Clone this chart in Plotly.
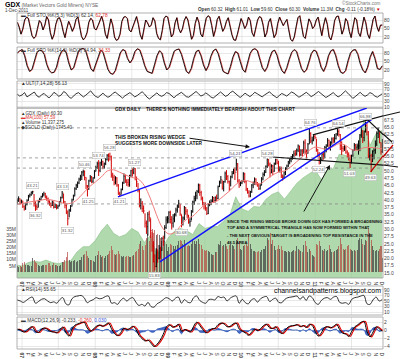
import pandas as pd
import plotly.graph_objects as go

W, H = 400, 359
def px(x): return x / W
def py(y): return 1 - y / H

FONT = "Liberation Sans, Arial, sans-serif"

# ---------------- data (approximate) ----------------
WEEK0 = "2006-12-08"
CLOSE = [
 39.8, 40.5, 38.9, 39.7,
 37.9, 36.9, 38.6, 39.9,  41.4, 41.8, 42.7, 42.9,  38.8, 37.9, 37.5, 39.7, 40.2,
 41.2, 41.8, 42.2, 41.1,  40.5, 39.6, 38.8, 38.2,  39.4, 37.6, 38.4, 37.5, 37.9,
 39.3, 40.8, 42.4, 39.6,  38.2, 35.9, 33.6, 36.5, 37.9,  40.1, 41.4, 43.9, 45.1,
 45.9, 47.2, 48.0, 49.6,  49.8, 47.8, 44.9, 43.9, 46.6,  47.9, 46.5, 47.6, 49.9,
 51.2, 52.5, 50.1, 52.8,  53.3, 51.4, 52.5, 54.0, 55.4,  55.1, 54.9, 48.6, 47.9,
 46.1, 47.6, 45.2, 42.3,  41.9, 43.6, 45.9, 48.2, 46.6,  46.1, 45.4, 48.3, 50.1,
 49.4, 50.8, 47.6, 46.3,  43.5, 38.2, 38.8, 37.1, 36.3,  32.1, 30.9, 35.1, 34.0,
 29.6, 24.3, 20.8, 17.2, 21.9,  20.1, 23.4, 22.7, 26.8,  25.7, 30.6, 33.2, 33.6,
 35.8, 33.4, 32.1, 33.6, 35.0,  36.6, 37.9, 38.9, 35.2,  31.8, 33.9, 37.5, 36.2,
 34.9, 32.5, 32.7, 36.0,  39.4, 40.6, 41.5, 43.0, 45.1,  42.6, 40.6, 39.1, 38.4,
 37.3, 35.4, 38.5, 39.2, 39.7,  40.9, 39.9, 40.8, 40.6,  44.6, 46.2, 47.0, 44.1,
 46.3, 49.2, 48.1, 46.4, 43.8,  48.0, 49.2, 50.3, 49.6,  52.5, 46.6, 45.6, 45.9,
 46.3, 49.0, 46.4, 43.8, 42.7,  41.4, 42.8, 45.2, 46.1,  47.2, 45.8, 45.5, 43.9,
 45.0, 47.3, 48.8, 49.6, 51.6,  54.0, 52.4, 49.3, 51.8,  49.9, 52.5, 53.9, 52.7,
 50.4, 50.9, 48.3, 47.9, 49.4,  50.7, 51.7, 53.1, 53.8,  54.8, 55.4, 55.9, 55.8,
 57.2, 58.6, 55.7, 56.9, 56.0,  59.6, 56.5, 56.2, 59.2,  62.9, 60.3, 60.6, 61.9, 61.5,
 57.2, 55.9, 53.4, 54.0,  55.7, 54.4, 58.1, 58.6,  60.5, 58.9, 59.8, 61.0,
 60.6, 61.2, 62.7, 63.6, 62.5,  58.7, 57.8, 57.6, 58.3,  56.5, 55.7, 54.5, 53.1,
 55.2, 57.0, 58.9, 58.2, 58.6,  58.6, 62.3, 63.8, 61.5,  63.5, 65.6, 63.4, 55.1, 55.2,
 53.2, 56.8, 57.1, 59.3,  62.9, 63.6, 59.8, 56.6,  60.3]
HIGH = [
 40.6, 41.3, 40.6, 40.2,
 39.8, 38.2, 38.9, 40.3,  41.8, 42.3, 43.0, 43.21,  42.1, 39.6, 38.6, 40.1, 40.8,
 41.5, 42.4, 42.9, 42.5,  41.6, 40.9, 39.9, 39.2,  39.9, 39.5, 38.8, 38.6, 38.4,
 39.7, 41.2, 43.13, 42.2,  39.7, 38.6, 36.5, 37.0, 38.3,  40.5, 41.9, 44.4, 45.6,
 46.4, 47.7, 48.7, 50.0,  50.46, 50.2, 47.9, 45.2, 47.0,  48.6, 48.3, 47.9, 50.3,
 51.8, 53.2, 53.74, 53.2,  54.1, 53.5, 52.9, 54.4, 55.8,  56.0, 56.28, 55.3, 49.4,
 48.7, 48.2, 47.9, 45.5,  42.9, 44.0, 46.3, 49.2, 48.8,  47.2, 47.3, 48.7, 50.4,
 50.9, 51.27, 51.0, 48.1,  45.9, 43.8, 40.6, 39.7, 38.2,  35.5, 33.0, 35.9, 36.4,
 33.8, 29.2, 25.9, 21.4, 23.5,  23.1, 24.6, 24.0, 27.3,  27.8, 31.4, 34.4, 34.5,
 36.2, 36.4, 34.5, 35.2, 35.5,  37.4, 38.5, 40.1, 38.7,  35.1, 34.4, 38.0, 37.6,
 36.9, 34.9, 33.8, 36.6,  39.8, 41.5, 42.9, 43.5, 45.7,  45.6, 43.2, 41.2, 39.3,
 39.2, 37.6, 39.0, 39.9, 40.3,  41.4, 41.1, 41.3, 41.9,  45.0, 46.7, 48.3, 46.8,
 46.6, 49.8, 50.3, 48.6, 46.7,  48.4, 50.0, 50.8, 51.2,  54.21, 52.7, 47.2, 46.6,
 46.9, 49.6, 49.4, 46.6, 44.2,  43.4, 43.2, 45.5, 46.4,  47.8, 47.5, 46.2, 45.7,
 45.5, 47.9, 49.5, 50.3, 51.9,  54.28, 54.1, 52.9, 52.3,  52.1, 52.9, 54.2, 54.1,
 53.5, 51.6, 51.5, 48.8, 49.9,  51.3, 52.2, 53.5, 54.3,  55.1, 55.8, 57.0, 57.2,
 57.7, 59.1, 58.7, 57.5, 57.5,  60.4, 60.9, 57.4, 59.6,  64.76, 63.3, 61.8, 62.3, 62.5,
 61.1, 57.6, 56.5, 54.8,  56.2, 56.5, 58.6, 59.2,  61.3, 60.8, 60.2, 61.5,
 61.6, 62.7, 63.0, 64.54, 64.3,  62.7, 60.2, 58.6, 59.0,  58.4, 57.1, 56.4, 55.6,
 55.6, 57.5, 59.6, 59.3, 59.4,  60.5, 62.7, 65.4, 64.0,  63.9, 66.98, 66.7, 63.7, 57.9,
 55.9, 57.1, 57.8, 60.5,  63.6, 64.9, 63.4, 59.8,  61.01]
LOW = [
 38.6, 39.4, 38.5, 38.7,
 37.3, 36.4, 36.7, 38.2,  39.8, 40.9, 41.5, 42.0,  37.8, 36.32, 36.6, 37.5, 39.2,
 40.0, 40.9, 41.3, 40.6,  39.8, 38.6, 38.1, 37.4,  38.0, 37.1, 37.3, 36.8, 37.0,
 37.9, 39.1, 40.6, 39.0,  37.2, 35.2, 31.32, 34.1, 36.0,  37.8, 39.9, 41.3, 43.5,
 44.2, 45.5, 46.6, 46.9,  48.2, 46.8, 43.8, 41.25, 43.5,  46.3, 45.8, 45.9, 47.4,
 49.8, 50.7, 48.3, 49.6,  51.8, 50.6, 50.8, 52.0, 53.6,  53.2, 53.6, 47.7, 46.6,
 45.1, 45.4, 44.6, 41.8,  41.21, 41.9, 43.4, 45.6, 45.9,  44.9, 44.6, 44.6, 48.0,
 48.1, 48.9, 46.8, 44.5,  42.7, 37.5, 36.8, 35.9, 35.4,  30.6, 28.4, 27.8, 32.6,
 27.0, 22.3, 18.6, 15.83, 17.0,  18.5, 19.7, 19.9, 22.6,  24.3, 26.7, 30.1, 32.0,
 32.1, 32.0, 29.9, 30.6, 32.4,  34.4, 35.7, 37.3, 34.6,  30.68, 31.3, 33.1, 35.0,
 33.9, 31.9, 30.9, 33.0,  35.7, 38.4, 39.6, 40.3, 42.4,  41.5, 39.9, 38.2, 36.8,
 36.4, 34.9, 35.2, 37.9, 38.3,  39.3, 39.1, 39.2, 39.7,  40.3, 44.5, 45.6, 43.6,
 43.0, 46.0, 46.9, 45.7, 43.1,  44.7, 47.5, 48.9, 46.9,  50.1, 46.0, 44.2, 44.8,
 45.5, 46.4, 45.8, 43.1, 42.2,  40.9, 41.0, 42.5, 44.1,  45.3, 45.1, 44.6, 43.5,
 43.6, 45.1, 46.8, 48.2, 49.3,  51.0, 51.6, 47.8, 49.3,  48.6, 49.7, 52.1, 52.3,
 49.7, 49.5, 47.6, 46.7, 47.4,  48.6, 50.3, 51.4, 52.3,  53.0, 53.9, 54.6, 55.1,
 55.3, 56.5, 54.9, 55.1, 55.0,  56.2, 55.8, 54.3, 55.9,  59.3, 59.6, 59.1, 60.2, 60.9,
 56.6, 54.8, 52.24, 52.4,  53.5, 53.9, 54.5, 56.4,  58.3, 57.4, 57.0, 59.0,
 59.5, 59.7, 60.8, 62.1, 61.8,  57.2, 55.5, 56.6, 56.9,  55.9, 54.7, 53.6, 51.03,
 52.6, 54.9, 56.8, 57.2, 57.2,  55.6, 56.8, 61.4, 59.6,  60.2, 63.2, 62.2, 54.4, 53.6,
 49.63, 53.1, 54.0, 55.9,  58.6, 61.3, 59.5, 55.6,  56.2]
VOLUME_M = [
 5, 4, 5, 4,
 7, 8, 6, 6,  6, 5, 5, 11,  10, 8, 7, 6, 5,  5, 6, 6, 6,  6, 7, 7, 5,  6, 7, 6, 6, 5,
 5, 6, 8, 8,  10, 12, 16, 10, 8,  9, 9, 10, 8,  9, 10, 10, 12,  14, 15, 17, 13, 11,  10, 10, 9, 8,
 13, 14, 17, 14,  12, 13, 11, 13, 14,  15, 17, 21, 18,  15, 14, 15, 17,  15, 13, 12, 13, 12,
 13, 13, 12, 12,  13, 14, 16, 17,  19, 23, 25, 21, 18,  22, 28, 31, 25,  28, 35, 32, 34, 30,
 31, 30, 28, 25,  26, 27, 23, 17,
 20, 23, 22, 21, 19,  21, 22, 25, 26,  25, 23, 26, 22,  21, 22, 21, 23,  26, 25, 23, 25, 27,
 23, 22, 19, 18,  17, 18, 17, 16, 15,  14, 14, 16, 16,  23, 22, 25, 21,  22, 23, 21, 19, 22,
 23, 22, 21, 19,  26, 28, 25, 19,
 18, 21, 22, 23, 21,  31, 23, 19, 17,  17, 16, 16, 17,  16, 18, 19, 19, 21,  28, 26, 32, 23,
 26, 21, 18, 19,  22, 19, 21, 18, 17,  17, 16, 17, 16,  16, 17, 18, 17,  21, 19, 18, 17, 16,
 22, 25, 21, 16,  19, 17, 14, 13, 12,
 23, 22, 25, 21,  18, 17, 19, 17,  18, 22, 19, 16,  16, 17, 18, 19, 21,  28, 23, 19, 18,
 19, 21, 22, 19,  18, 17, 18, 17, 18,  26, 28, 27, 23,  22, 26, 25, 36, 32,  26, 21, 18, 17,
 18, 17, 19, 21,  11.3]

MONTH0 = "2006-12-01"
MA100 = [
 38.5, 38.8, 39.3, 39.6, 39.9, 40.3, 40.0, 39.5, 38.8, 38.9, 40.1, 42.3, 44.5,
 46.2, 48.0, 50.0, 50.4, 49.6, 48.6, 47.8, 47.3, 45.0, 40.7, 35.0, 30.5,
 28.4, 29.0, 31.2, 33.5, 34.5, 36.6, 38.4, 39.0, 39.8, 41.4, 43.2, 45.3,
 46.6, 46.6, 45.9, 45.6, 47.0, 48.5, 49.6, 50.0, 51.4, 53.2, 55.0, 57.0,
 58.2, 57.8, 57.4, 58.4, 59.4, 58.8, 57.4, 57.1, 58.0, 58.1, 57.9, 57.6]
GOLD = [
 640, 632, 660, 670, 663, 680, 660, 650, 665, 675, 745, 790, 790,
 840, 920, 975, 900, 870, 890, 940, 910, 825, 880, 730, 780,
 870, 920, 940, 920, 890, 980, 940, 955, 955, 1000, 1045, 1200,
 1100, 1080, 1120, 1115, 1180, 1220, 1240, 1180, 1250, 1310, 1355, 1385,
 1420, 1340, 1420, 1430, 1550, 1540, 1500, 1620, 1830, 1620, 1720, 1745]

OSC_START, OSC_END = "2006-12-08", "2011-12-01"
STO5_K = [
 72, 55, 30, 48, 80, 90, 86, 60, 25, 15, 22, 50, 78, 70, 45, 62, 92, 80, 35, 12,
 28, 65, 85, 88, 70, 40, 18, 50, 75, 60, 40, 55, 82, 91, 60, 22, 10, 18, 35, 72,
 86, 80, 50, 45, 60, 80, 93, 70, 30, 15, 58, 84, 62, 20, 8, 12, 30, 75, 90, 92,
 85, 45, 38, 55, 78, 92, 65, 28, 12, 48, 80, 70, 55, 62, 88, 76, 32, 15, 10, 42,
 85, 94, 90, 58, 20, 30, 70, 88, 50, 35, 48, 78, 92, 80, 40, 12, 25, 68, 90, 72,
 30, 20, 55, 86, 95, 90, 60, 22, 45, 82, 93, 65, 40, 52, 75, 88, 55, 28, 10, 8,
 30, 60, 85, 70, 50, 62, 90, 78, 35, 22, 48, 80, 92, 88, 62, 20, 35, 72, 85, 45,
 18, 30, 68, 90, 75, 60, 72, 82, 45, 12, 5, 20, 55, 88, 95, 60, 22, 15, 50, 84,
 72, 50, 58, 80, 90, 55, 25, 62, 88, 65, 20, 10, 35, 78, 92, 94, 68, 30, 48, 85,
 75, 40, 18, 55, 88, 80, 35, 22, 60, 90, 70, 30, 15, 45, 82, 94, 58, 40, 62, 62]
STO14_K = [
 80, 88, 92, 70, 35, 15, 22, 55, 82, 90, 88, 75, 40, 18, 10, 12, 30, 65, 85, 92,
 80, 45, 20, 28, 60, 88, 94, 96, 85, 50, 25, 15, 40, 72, 90, 82, 55, 22, 8, 5,
 18, 50, 80, 92, 88, 60, 45, 58, 85, 95, 90, 65, 35, 15, 10, 8, 38, 70, 88, 80,
 45, 20, 30, 62, 86, 92, 94, 75, 40, 15, 8, 25, 60, 85, 90, 70, 38, 18, 35, 68,
 88, 94, 78, 42, 15, 10, 6, 32, 65, 85, 80, 50, 22, 12, 45, 78, 92, 95, 88, 60,
 28, 15, 30, 62, 85, 90, 72, 40, 18, 8, 28, 58, 82, 92, 85, 55, 25, 12, 20, 48,
 78, 90, 86, 62, 30, 15, 35, 70, 88, 92, 70, 35, 12, 8, 18, 52, 80, 90, 92, 75,
 42, 20, 10, 30, 65, 85, 60, 25, 22, 35]
ULT = [
 55, 48, 52, 60, 45, 50, 58, 62, 49, 44, 53, 57, 48, 42, 50, 61, 55, 47, 52, 64,
 58, 46, 40, 49, 56, 60, 52, 45, 51, 59, 66, 55, 47, 43, 52, 58, 50, 44, 48, 57,
 62, 54, 46, 41, 49, 55, 60, 53, 45, 50, 58, 63, 55, 44, 38, 46, 54, 59, 51, 47,
 52, 60, 57, 48, 42, 50, 56, 61, 54, 46, 44, 51, 58, 64, 56, 48, 52, 59, 53, 45,
 41, 49, 57, 62, 55, 47, 51, 60, 65, 57, 48, 43, 50, 58, 52, 46, 53, 61, 56, 49,
 45, 52, 59, 63, 54, 47, 42, 50, 57, 53, 48, 55, 62, 58, 50, 44, 49, 56, 61, 54,
 46, 51, 58, 64, 57, 49, 43, 48, 55, 60, 52, 45, 50, 59, 66, 58, 47, 40, 46, 55,
 61, 53, 47, 52, 60, 56, 48, 44, 51, 56]
RSI14 = [
 54, 50,
 45, 52, 60, 64, 42, 48, 56, 58, 50, 44, 47, 42, 55, 62, 40, 36, 58, 66, 68, 70, 62, 44, 50, 55,
 62, 58, 60, 66, 68, 42, 44, 38, 52, 60, 50, 58, 62, 46, 34, 38, 32, 45, 30, 28, 40, 46, 55, 62,
 58, 50, 60, 64, 42, 55, 46, 44, 62, 68, 52, 45, 42, 55, 56, 54, 66, 62, 64, 50, 60, 66, 68, 42,
 56, 44, 40, 54, 58, 46, 58, 64, 66, 48, 56, 60, 45, 44, 56, 62, 64, 66, 68, 56, 66, 52, 68, 62,
 44, 38, 52, 60, 62, 56, 64, 66, 45, 42, 44, 38, 56, 62, 64, 68, 70, 40, 38, 54, 64, 50,
 55]
MACD = [
 0.3, 0.1,
 -0.4, -0.2, 0.6, 0.9, -0.3, -0.5, 0.3, 0.6, 0.2, -0.3, -0.4, -0.6, 0.2, 0.8, -0.5, -1.4,
 0.3, 1.3, 1.6, 1.9, 2.0, 0.6, -0.2, 0.3,
 1.0, 1.3, 1.0, 1.4, 1.8, 0.4, -0.8, -1.3, -0.6, 0.5, 0.2, 0.5, 1.0, 0.3, -1.2, -2.0,
 -2.6, -2.4, -3.2, -4.0, -3.4, -2.4, -1.0, 0.8,
 1.4, 0.8, 1.0, 1.5, -0.2, 0.2, -0.1, -0.4, 1.0, 2.0, 1.2, 0.2, -0.6, -0.1, 0.4, 0.5,
 1.4, 1.8, 1.6, 0.9, 1.0, 1.6, 1.8, 0.3,
 -0.2, -0.6, -1.2, -0.5, 0.3, 0.0, 0.4, 1.2, 1.5, 0.6, 0.5, 0.9, -0.2, -0.8, 0.0, 0.8,
 1.1, 1.2, 1.4, 0.9, 1.2, 0.7, 1.5, 1.2,
 -0.3, -1.4, -0.6, 0.7, 0.9, 0.6, 1.0, 1.5, 0.2, -0.7, -0.9, -1.5, -0.2, 0.9, 1.4, 2.0,
 2.2, -0.3, -1.6, -0.4, 0.9, 0.4, -0.23]
MACD_HIST = [
 0.1, -0.1,
 -0.25, 0.1, 0.4, 0.15, -0.6, -0.1, 0.4, 0.15, -0.2, -0.25, -0.05, -0.1, 0.4, 0.3, -0.65, -0.45,
 0.85, 0.5, 0.15, 0.15, 0.05, -0.7, -0.4, 0.25,
 0.35, 0.15, -0.15, 0.2, 0.2, -0.7, -0.6, -0.25, 0.35, 0.55, -0.15, 0.15, 0.25, -0.35, -0.75, -0.4,
 -0.3, 0.1, -0.4, -0.4, 0.3, 0.5, 0.7, 0.9,
 0.3, -0.3, 0.1, 0.25, -0.85, 0.2, -0.15, -0.15, 0.7, 0.5, -0.4, -0.5, -0.4, 0.25, 0.25, 0.05,
 0.45, 0.2, -0.1, -0.35, 0.05, 0.3, 0.1, -0.75,
 -0.25, -0.2, -0.3, 0.35, 0.4, -0.15, 0.2, 0.4, 0.15, -0.45, -0.05, 0.2, -0.55, -0.3, 0.4, 0.4,
 0.15, 0.05, 0.1, -0.25, 0.15, -0.25, 0.4, -0.15,
 -0.75, -0.55, 0.4, 0.65, 0.1, -0.15, 0.2, 0.25, -0.65, -0.45, -0.1, -0.3, 0.65, 0.55, 0.25, 0.3,
 0.1, -1.25, -0.65, 0.6, 0.65, -0.25, 0.03]

PRICE_TICKS = [15.0, 17.5, 20.0, 22.5, 25.0, 27.5, 30.0, 32.5, 35.0, 37.5, 40.0, 42.5,
               45.0, 47.5, 50.0, 52.5, 55.0, 57.5, 60.0, 62.5, 65.0, 67.5]
VOL_TICKS_M = [5, 10, 15, 20, 25, 30, 35]
OSC_TICKS = [20, 50, 80]
ULT_TICKS = [10, 30, 50, 70, 90]
MACD_TICKS = [-4, -2, 0, 2]
MONTH_LETTERS = ["J", "F", "M", "A", "M", "J", "J", "A", "S", "O", "N", "D"]

# user-drawn annotation data: (date, price)
BLUE_UPPER = [("2008-04-23", 41.1), ("2011-09-15", 71.6)]
BLUE_LOWER = [("2008-11-18", 18.8), ("2011-10-10", 67.7)]
BLACK_UPPER = [("2010-12-20", 62.4), ("2011-12-06", 68.9)]
BLACK_LOWER = [("2010-06-03", 54.8), ("2011-12-06", 52.0)]
TRI_TOP = [("2011-09-05", 68.5), ("2011-12-06", 62.5)]
TRI_BOTTOM = [("2011-10-05", 49.7), ("2011-12-06", 55.3)]
DASHED_LEVELS = [64.8, 54.5, 51.0, 38.7]
PIVOT_DATES = ["2007-02-23", "2007-03-07", "2007-07-20", "2007-08-16", "2007-11-07", "2007-11-27",
               "2008-01-17", "2008-03-14", "2008-05-01", "2008-07-15", "2008-10-24", "2009-03-06",
               "2009-12-02", "2010-05-06", "2010-12-07", "2011-01-20", "2011-04-26", "2011-06-23",
               "2011-09-08", "2011-10-04"]
PIVOT_PRICES = [43.21, 36.32, 43.13, 31.32, 50.46, 41.25, 53.74, 56.28, 41.21, 51.27, 15.83, 30.68,
                54.21, 54.28, 64.76, 52.24, 64.54, 51.03, 66.98, 49.63]
PIVOT_SIDE = [1, -1, 1, -1, 1, -1, 1, 1, -1, 1, -1, -1, 1, 1, 1, -1, 1, -1, 1, -1]

# ---------------- layout geometry (pixels) ----------------
XL, XR = 17, 383
P_STO5 = (13, 43)
P_STO14 = (47, 79)
P_ULT = (81, 108)
P_MAIN = (108, 278)
P_RSI = (286, 315)
P_MACD = (317, 349)

def dom(p):
    return [py(p[1]), py(p[0])]

wk = pd.date_range(WEEK0, periods=len(CLOSE), freq="W-FRI")
opens = [CLOSE[0]] + CLOSE[:-1]
mdates = pd.date_range(MONTH0, periods=len(MA100), freq="MS")
gdates = pd.date_range(MONTH0, periods=len(GOLD), freq="MS")

def osc_x(n):
    return pd.date_range(OSC_START, OSC_END, periods=n)

fig = go.Figure()

# main panel: gold area (base axis y4), volume (y5), price (y6)
fig.add_trace(go.Scatter(x=gdates, y=GOLD, mode="lines", fill="tozeroy",
                         line=dict(color="#86bd83", width=0.6),
                         fillcolor="rgba(150,205,145,0.75)",
                         xaxis="x2", yaxis="y4", hoverinfo="skip"))
vcol = ["#b5453f" if c < o else "#3c3c3c" for c, o in zip(CLOSE, opens)]
fig.add_trace(go.Bar(x=wk, y=[v * 1e6 for v in VOLUME_M], marker_color=vcol,
                     marker_line_width=0, opacity=0.7, width=5 * 86400000,
                     xaxis="x2", yaxis="y5", hoverinfo="skip"))
fig.add_trace(go.Scatter(x=mdates, y=MA100, mode="lines",
                         line=dict(color="#f07a7a", width=1, shape="spline"),
                         xaxis="x2", yaxis="y6", hoverinfo="skip"))
fig.add_trace(go.Ohlc(x=wk, open=opens, high=HIGH, low=LOW, close=CLOSE,
                      increasing_line_color="#000000", decreasing_line_color="#d10000",
                      line_width=1, tickwidth=0.35, xaxis="x2", yaxis="y6",
                      hoverinfo="skip"))

# oscillators
def add_kd(vals, yax, lag):
    xs = osc_x(len(vals))
    fig.add_trace(go.Scatter(x=xs + pd.Timedelta(days=lag), y=vals, mode="lines",
                             line=dict(color="#d00000", width=0.7), xaxis="x", yaxis=yax,
                             hoverinfo="skip"))
    fig.add_trace(go.Scatter(x=xs, y=vals, mode="lines",
                             line=dict(color="#000000", width=0.85), xaxis="x", yaxis=yax,
                             hoverinfo="skip"))

add_kd(STO5_K, "y", 2)
add_kd(STO14_K, "y2", 3)
fig.add_trace(go.Scatter(x=osc_x(len(ULT)), y=ULT, mode="lines",
                         line=dict(color="#000000", width=0.8), xaxis="x", yaxis="y3",
                         hoverinfo="skip"))
fig.add_trace(go.Scatter(x=osc_x(len(RSI14)), y=RSI14, mode="lines",
                         line=dict(color="#000000", width=0.8, shape="spline"),
                         xaxis="x", yaxis="y7", hoverinfo="skip"))
mx = osc_x(len(MACD))
fig.add_trace(go.Scatter(x=osc_x(len(MACD_HIST)), y=MACD_HIST, mode="lines", fill="tozeroy",
                         line=dict(color="#1f4fb0", width=0.8, shape="spline"),
                         fillcolor="rgba(40,80,190,0.85)", xaxis="x", yaxis="y8",
                         hoverinfo="skip"))
fig.add_trace(go.Scatter(x=mx + pd.Timedelta(days=7), y=MACD, mode="lines",
                         line=dict(color="#e00000", width=1.1, shape="spline"),
                         xaxis="x", yaxis="y8", hoverinfo="skip"))
fig.add_trace(go.Scatter(x=mx, y=MACD, mode="lines",
                         line=dict(color="#000000", width=1, shape="spline"),
                         xaxis="x", yaxis="y8", hoverinfo="skip"))

# ---------------- axes ----------------
tickfont = dict(family=FONT, size=5, color="#444")
mticks = pd.date_range("2007-01-01", "2011-12-01", freq="MS")
mtext = ["<b>%02d</b>" % (d.year % 100) if d.month == 1 else MONTH_LETTERS[d.month - 1]
         for d in mticks]
xrange_ = ["2006-12-07", "2011-12-05"]

def osc_axis(p, rng, ticks):
    return dict(domain=dom(p), range=rng, side="right", anchor="x", tickvals=ticks,
                tickfont=tickfont, showgrid=True, gridcolor="#d9d9d9", gridwidth=0.6,
                zeroline=False, showline=False, ticks="", automargin=False, fixedrange=True)

xcommon = dict(domain=[px(XL), px(XR)], range=xrange_, type="date",
               tickvals=mticks, ticktext=mtext, tickfont=dict(family=FONT, size=5, color="#333"),
               showgrid=False, zeroline=False, showline=False, ticks="", automargin=False,
               rangeslider=dict(visible=False))
layout_axes = dict(
    xaxis=dict(anchor="y8", **xcommon),
    xaxis2=dict(anchor="y4", matches="x", **xcommon),
    yaxis=osc_axis(P_STO5, [-1.2, 104.7], OSC_TICKS),
    yaxis2=osc_axis(P_STO14, [-11.8, 101.2], OSC_TICKS),
    yaxis3=osc_axis(P_ULT, [6.5, 100.4], ULT_TICKS),
    yaxis7=osc_axis(P_RSI, [-0.4, 103.9], ULT_TICKS),
    yaxis8=osc_axis(P_MACD, [-4.6, 3.3], MACD_TICKS),
    yaxis4=dict(domain=dom(P_MAIN), range=[533, 1929], anchor="x2", visible=False,
                showgrid=False, zeroline=False, automargin=False, fixedrange=True),
    yaxis5=dict(domain=dom(P_MAIN), range=[-4.88e6, 133.5e6], overlaying="y4", anchor="x2",
                side="left", tickvals=[v * 1e6 for v in VOL_TICKS_M],
                ticktext=["%dM" % v for v in VOL_TICKS_M], tickfont=tickfont,
                showgrid=False, zeroline=False, ticks="", automargin=False, fixedrange=True),
    yaxis6=dict(domain=dom(P_MAIN), range=[13.28, 71.62], overlaying="y4", anchor="x2",
                side="right", tickvals=PRICE_TICKS, tickformat=".1f", tickfont=tickfont,
                showgrid=False, zeroline=False, ticks="", automargin=False, fixedrange=True),
)

# ---------------- shapes ----------------
shapes = []
grid_dates = [d for d in mticks if d.month in (1, 7)]
for p in (P_STO5, P_STO14, P_ULT, P_MAIN, P_RSI, P_MACD):
    for d in grid_dates:
        shapes.append(dict(type="line", xref="x", yref="paper", x0=d, x1=d,
                           y0=py(p[1]), y1=py(p[0]), line=dict(color="#dedede", width=0.7),
                           layer="below"))
    shapes.append(dict(type="rect", xref="paper", yref="paper", x0=px(XL), x1=px(XR),
                       y0=py(p[1]), y1=py(p[0]), line=dict(color="#9c9c9c", width=0.8),
                       layer="above"))

for lv in DASHED_LEVELS:
    shapes.append(dict(type="line", xref="x2", yref="y6", x0=xrange_[0], x1=xrange_[1],
                       y0=lv, y1=lv, line=dict(color="#8a8a8a", width=0.8, dash="dot")))

def tline(pts, color, width):
    (d0, v0), (d1, v1) = pts
    shapes.append(dict(type="line", xref="x2", yref="y6", x0=d0, y0=v0, x1=d1, y1=v1,
                       line=dict(color=color, width=width)))

tline(BLUE_UPPER, "#1010ff", 1.4)
tline(BLUE_LOWER, "#1010ff", 1.4)
tline(BLACK_UPPER, "#111111", 1.2)
tline(BLACK_LOWER, "#111111", 1.2)
tline(TRI_TOP, "#111111", 1.2)
tline(TRI_BOTTOM, "#c00000", 1.2)

# hand-drawn lines continue past the plot edge over the axis labels (pixel geometry)
for (x0, y0, x1, y1, c) in [(383, 116, 400, 112, "#111111"), (383, 134, 392, 142, "#111111"),
                            (383, 157, 393, 145, "#c00000"), (383, 165, 398, 167, "#111111")]:
    shapes.append(dict(type="line", xref="paper", yref="paper", x0=px(x0), y0=py(y0),
                       x1=px(x1), y1=py(y1), line=dict(color=c, width=1.2)))

# ---------------- text ----------------
ann = []
def txt(x, y, s, size=5, color="#333", xanchor="left", bold=False):
    ann.append(dict(xref="paper", yref="paper", x=px(x), y=py(y), text=("<b>%s</b>" % s) if bold else s,
                    showarrow=False, xanchor=xanchor, yanchor="middle",
                    font=dict(family=FONT, size=size, color=color)))

txt(3, 4, '<b><span style="font-size:7px;color:#000">GDX</span></b> (Market Vectors Gold Miners) NYSE',
    size=4.8, color="#666")
txt(3, 10, "1-Dec-2011", size=4.5, color="#444")
txt(383, 3, "©StockCharts.com", size=4.6, color="#777", xanchor="right")
txt(383, 9.5, "<b>Open</b> 60.32  <b>High</b> 61.01  <b>Low</b> 59.60  <b>Close</b> 60.30  "
    "<b>Volume</b> 11.3M  <b>Chg</b> -0.11 (-0.18%) <span style='color:#d00000'>▼</span>",
    size=4.6, color="#333", xanchor="right")
txt(19, 16, "▬ Full STO %K(5,3) %D(3) 62.14, <span style='color:#e03030'>62.78</span>", size=4.8)
txt(19, 50, "▬ Full STO %K(14,3) %D(3) 34.94, <span style='color:#e03030'>34.33</span>", size=4.8)
txt(19, 83.5, "▲ULT(7,14,28) 56.13", size=4.8)
txt(19, 113, "▲GDX (Daily) 60.30", size=4.5)
txt(19, 118, "<span style='color:#e03030'>▬MA(100) 57.59</span>", size=4.5)
txt(19, 123, "▲Volume 11,337,275", size=4.5)
txt(19, 128, "◆$GOLD (Daily) 1745.40", size=4.5)
txt(19, 289, "▲RSI(14) 55.65", size=4.8)
txt(19, 320.5, "▬ MACD(12,26,9) -0.233, <span style='color:#e03030'>-0.260</span>, "
    "<span style='color:#3050e0'>0.030</span>", size=4.8)

txt(113, 109, "GDX DAILY    THERE'S NOTHING IMMEDIATELY BEARISH ABOUT THIS CHART", size=4.8,
    color="#111", bold=True)
txt(113, 137.5, "THIS BROKEN RISING WEDGE", size=4.8, color="#111", bold=True)
txt(113, 144, "SUGGESTS MORE DOWNSIDE LATER", size=4.8, color="#111", bold=True)
for i, line in enumerate(["SINCE THE RISING WEDGE BROKE DOWN GDX HAS FORMED A BROADENING",
                          "TOP AND A SYMMETRICAL TRIANGLE HAS NOW FORMED WITHIN THAT",
                          "- THE NEXT OBVIOUS TARGET IS BROADENING TOP RESISTANCE IN THE",
                          "48.5 AREA"]):
    txt(225, 221 + i * 7, line, size=4.1, color="#111", bold=True)
txt(383, 291, "channelsandpatterns.blogspot.com", size=6.9, color="#000", xanchor="right")

# arrows (pixel geometry of the hand-drawn pointers)
for (tx, ty, hx, hy) in [(188, 138, 250, 147), (303, 213, 330, 165)]:
    ann.append(dict(xref="paper", yref="paper", x=px(hx), y=py(hy), ax=tx - hx, ay=ty - hy,
                    text="", showarrow=True, arrowhead=2, arrowsize=0.9, arrowwidth=1,
                    arrowcolor="#111"))

for d, pv, sd in zip(PIVOT_DATES, PIVOT_PRICES, PIVOT_SIDE):
    ann.append(dict(xref="x2", yref="y6", x=d, y=pv, text="%.2f" % pv, showarrow=False,
                    yshift=5 * sd, xanchor="center", yanchor="middle",
                    font=dict(family=FONT, size=4.3, color="#555"),
                    bgcolor="rgba(255,255,255,0.9)", bordercolor="#b0b0b0", borderwidth=0.5,
                    borderpad=0.3))

fig.update_layout(
    width=W, height=H, margin=dict(l=0, r=0, t=0, b=0, pad=0), autosize=False,
    template="none", paper_bgcolor="white", plot_bgcolor="white",
    showlegend=False, shapes=shapes, annotations=ann, bargap=0,
    font=dict(family=FONT, size=5),
    **layout_axes,
)
fig.write_html("out.html", config=dict(displayModeBar=False, staticPlot=True),
               post_script="document.body.style.margin='0px';document.body.style.padding='0px';")
